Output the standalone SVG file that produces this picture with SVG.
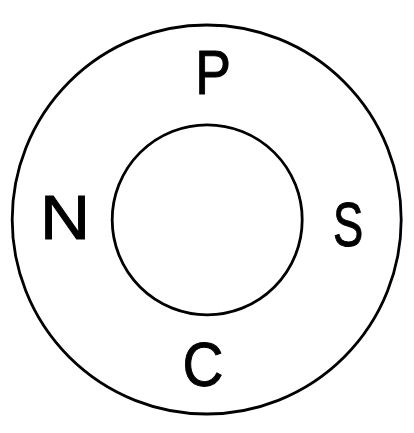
<svg xmlns="http://www.w3.org/2000/svg" width="414" height="433" viewBox="0 0 414 433">
<style>
.ring{fill:none;stroke:#000;stroke-width:2.8}
.lbl{font-family:"Liberation Sans",Arial,sans-serif;font-size:63px;fill:#000;stroke:#000;stroke-width:1;text-anchor:middle}
</style>
<rect width="414" height="433" fill="#fff"/>
<g id="outer"><circle class="ring" cx="206.7" cy="219.5" r="194.5"/></g>
<g id="inner"><circle class="ring" cx="207.2" cy="219.8" r="95"/></g>
<g id="labels">
<text id="P" class="lbl" transform="translate(213,94) scale(0.85,1)">P</text>
<text id="N" class="lbl" transform="translate(65,239) scale(1.1,1)">N</text>
<text id="S" class="lbl" transform="translate(348,246) scale(0.72,1)">S</text>
<text id="C" class="lbl" transform="translate(203,386) scale(0.9,1)">C</text>
</g>
</svg>
